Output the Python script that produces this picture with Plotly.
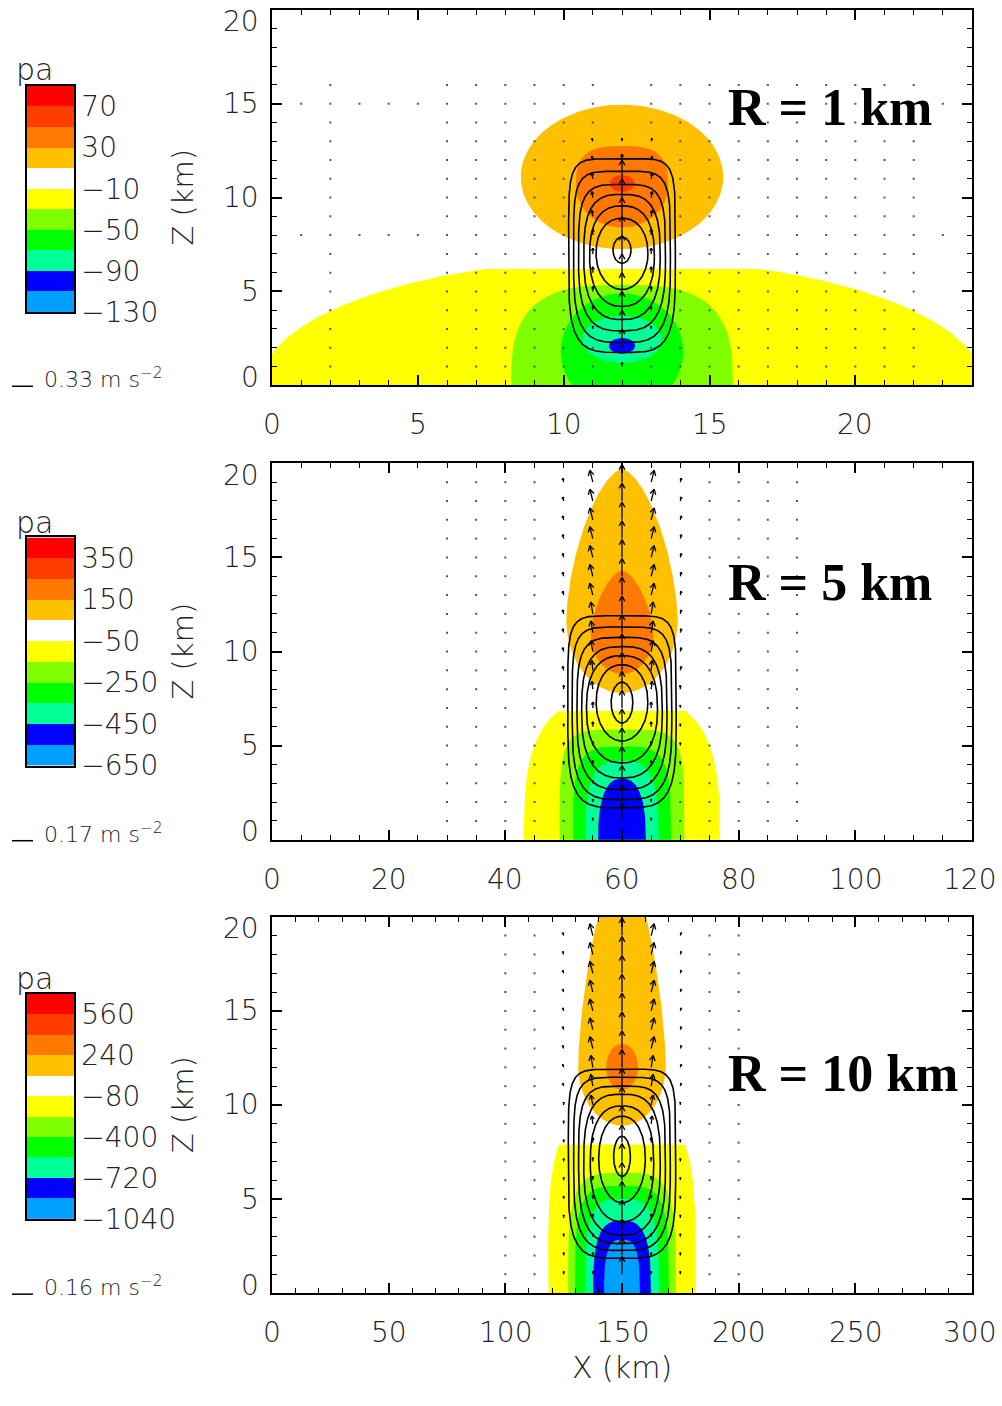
import numpy as np
import plotly.graph_objects as go

W, H = 1002, 1406

# ---------------- colour bands (lowest -> highest) ----------------
BAND_COLORS = ["#00A0FF", "#0000FF", "#00FF96", "#00FF00", "#80FF00",
               "#FFFF00", "#FFFFFF", "#FFC000", "#FF7800", "#FF3C00", "#FF0000"]

# ---------------- panel 1 : R = 1 km ----------------
P1_XMAX = 24
P1_CENTER = 12.0
P1_LEVELS = [-130, -110, -90, -70, -50, -30, -10, 10, 30, 50, 70, 90]
P1_TICKS = [70, 30, -10, -50, -90, -130]
P1_XTICKS = [0, 5, 10, 15, 20]
P1_FILL_LEVEL = [-10, -30, -50, -70, -90, 10, 30, 50]
P1_FILL_CZ = [0.0, 0.0, 1.8, 2.45, 2.1, 11.1, 10.6, 10.75]
P1_FILL_A = [12.4, 3.8, 2.1, 1.37, 0.45, 3.47, 1.58, 0.42]
P1_FILL_BUP = [6.7, 5.35, 3.1, 1.25, 0.42, 3.85, 2.15, 0.45]
P1_FILL_BDN = [6.7, 5.35, 3.1, 1.25, 0.42, 3.85, 2.2, 0.45]
P1_FILL_NUP = [2, 3, 2, 2, 2, 2, 3, 2]
P1_FILL_NDN = [2, 3, 2, 2, 2, 2, 2, 2]
P1_FILL_ZCUT = [6.2, 99, 99, 99, 99, 99, 99, 99]
P1_CONT_TOP = [12.07, 11.4, 10.7, 10.17, 9.56, 8.9, 7.9]
P1_CONT_BOT = [1.75, 2.28, 2.9, 3.5, 4.2, 5.1, 6.5]
P1_CONT_HW = [1.83, 1.66, 1.49, 1.31, 1.11, 0.89, 0.31]
P1_W_C = [4, 19, 19, 19, 19, 19, 19, 19, 19, 19, 19, 6, 3, 2, 2, 1, 0, 0, 0]
P1_W_S1 = [2, 2, 3, 4, 5, 6, 6, 6, 6, 6, 6, 4, 3, 2, 2, 1, 0, 0, 0]
P1_U_S1 = [0, 0, 0, 0, 0, 0, 0, 0, 1, 1, 1, 1, 1, 1, 0, 0, 0, 0, 0]
P1_W_S2 = [1, 1, 2, 2, 2, 2, 2, 2, 2, 2, 2, 2, 2, 1, 1, 1, 0, 0, 0]
P1_U_S2 = [0] * 19
P1_DOT_COLS = [-10, -6, -5, -4, -3, -2, -1, 1, 2, 3, 4, 5, 6, 7, 8, 9, 10]
P1_DOT_ROWS = list(range(1, 17))
P1_FULL_ROWS = [8, 15]

# ---------------- panel 2 : R = 5 km ----------------
P2_XMAX = 120
P2_CENTER = 60.0
P2_LEVELS = [-650, -550, -450, -350, -250, -150, -50, 50, 150, 250, 350, 450]
P2_TICKS = [350, 150, -50, -250, -450, -650]
P2_XTICKS = [0, 20, 40, 60, 80, 100, 120]
P2_FILL_LEVEL = [-50, -150, -250, -350, -450, 50, 150]
P2_FILL_CZ = [0.0, 0.0, 0.0, 0.0, 0.0, 11.7, 10.9]
P2_FILL_A = [16.8, 10.7, 8.4, 6.3, 4.1, 9.55, 5.35]
P2_FILL_BUP = [7.6, 5.85, 4.95, 4.2, 3.25, 8.0, 3.4]
P2_FILL_BDN = [7.6, 5.85, 4.95, 4.2, 3.25, 3.9, 2.1]
P2_FILL_NUP = [3, 5, 4, 3, 2.5, 1.6, 1.6]
P2_FILL_NDN = [3, 5, 4, 3, 2.5, 2, 2]
P2_FILL_ZCUT = [6.85, 99, 99, 99, 99, 99, 99]
P2_CONT_TOP = [11.9, 11.3, 10.75, 10.26, 9.78, 9.3, 8.37]
P2_CONT_BOT = [1.7, 2.13, 2.66, 3.28, 4.08, 5.24, 6.2]
P2_CONT_HW = [9.29, 8.54, 7.71, 6.91, 6.09, 4.43, 1.86]
P2_W_C = [18] * 19
P2_W_S1 = [3, 3, 3, 4, 4, 5, 6, 8, 10, 11, 12, 12, 12, 12, 12, 12, 12, 12, 12]
P2_U_S1 = [0, 0, 0, 0, 0, 0, 0, 1, 1, 2, 2, 2, 3, 3, 3, 3, 3, 3, 3]
P2_W_S2 = [2, 2, 2, 3, 3, 3, 3, 4, 4, 4, 4, 4, 4, 4, 4, 4, 4, 4, 4]
P2_U_S2 = [0, 0, 0, 0, 0, 0, 0, 0, 1, 1, 1, 1, 1, 1, 1, 1, 1, 1, 1]
P2_DOT_COLS = [-6, -5, -4, -3, -2, -1, 1, 2, 3, 4, 5, 6]
P2_DOT_ROWS = list(range(1, 20))
P2_FULL_ROWS = []

# ---------------- panel 3 : R = 10 km ----------------
P3_XMAX = 300
P3_CENTER = 150.0
P3_LEVELS = [-1040, -880, -720, -560, -400, -240, -80, 80, 240, 400, 560, 720]
P3_TICKS = [560, 240, -80, -400, -720, -1040]
P3_XTICKS = [0, 50, 100, 150, 200, 250, 300]
P3_FILL_LEVEL = [-80, -240, -400, -560, -720, -880, 80, 240]
P3_FILL_CZ = [0.0, 0.0, 0.0, 0.0, 0.0, 0.0, 12.1, 12.0]
P3_FILL_A = [31.7, 23.1, 20.1, 15.9, 12.4, 7.7, 18.8, 6.8]
P3_FILL_BUP = [9.5, 6.4, 5.7, 5.0, 3.85, 2.85, 11.2, 1.25]
P3_FILL_BDN = [9.5, 6.4, 5.7, 5.0, 3.85, 2.85, 3.2, 1.2]
P3_FILL_NUP = [4, 4, 4, 3.5, 3, 3, 1.5, 2]
P3_FILL_NDN = [4, 4, 4, 3.5, 3, 3, 2, 2]
P3_FILL_ZCUT = [7.9, 99, 99, 99, 99, 99, 99, 99]
P3_CONT_TOP = [11.9, 11.47, 11.0, 10.57, 9.95, 9.4, 8.34]
P3_CONT_BOT = [1.85, 2.27, 2.63, 3.08, 3.8, 4.8, 6.2]
P3_CONT_HW = [23.0, 20.7, 18.6, 16.4, 13.6, 10.0, 3.6]
P3_W_C = [18] * 19
P3_W_S1 = [3, 3, 3, 4, 4, 4, 4, 5, 8, 10, 12, 12, 12, 12, 12, 12, 12, 12, 12]
P3_U_S1 = [0, 0, 0, 0, 0, 0, 0, 0, 1, 2, 2, 2, 3, 3, 3, 3, 3, 3, 3]
P3_W_S2 = [3] * 19
P3_U_S2 = [0, 0, 0, 0, 0, 0, 0, 0, 0, 0, 1, 1, 1, 1, 1, 1, 1, 1, 1]
P3_DOT_COLS = [-4, -3, -2, -1, 1, 2, 3, 4]
P3_DOT_ROWS = list(range(1, 20))
P3_FULL_ROWS = []

CONT_NUP = [6, 5, 4, 3, 2.5, 2.2, 2.0]
CONT_NDN = [4, 3.5, 3, 2.6, 2.3, 2.0, 2.0]

R_LABELS = ["R = 1 km", "R = 5 km", "R = 10 km"]
SCALE_LABELS = ["0.33", "0.17", "0.16"]
Y_TICKS = [0, 5, 10, 15, 20]
X_MINOR = [1, 5, 10]

PANELS = [
    dict(xmax=P1_XMAX, c=P1_CENTER, levels=P1_LEVELS, ticks=P1_TICKS, xt=P1_XTICKS,
         fl=P1_FILL_LEVEL, fcz=P1_FILL_CZ, fa=P1_FILL_A, fbu=P1_FILL_BUP, fbd=P1_FILL_BDN,
         fnu=P1_FILL_NUP, fnd=P1_FILL_NDN, fcut=P1_FILL_ZCUT,
         ct=P1_CONT_TOP, cb=P1_CONT_BOT, chw=P1_CONT_HW,
         wc=P1_W_C, ws1=P1_W_S1, us1=P1_U_S1, ws2=P1_W_S2, us2=P1_U_S2,
         dcols=P1_DOT_COLS, drows=P1_DOT_ROWS, frows=P1_FULL_ROWS),
    dict(xmax=P2_XMAX, c=P2_CENTER, levels=P2_LEVELS, ticks=P2_TICKS, xt=P2_XTICKS,
         fl=P2_FILL_LEVEL, fcz=P2_FILL_CZ, fa=P2_FILL_A, fbu=P2_FILL_BUP, fbd=P2_FILL_BDN,
         fnu=P2_FILL_NUP, fnd=P2_FILL_NDN, fcut=P2_FILL_ZCUT,
         ct=P2_CONT_TOP, cb=P2_CONT_BOT, chw=P2_CONT_HW,
         wc=P2_W_C, ws1=P2_W_S1, us1=P2_U_S1, ws2=P2_W_S2, us2=P2_U_S2,
         dcols=P2_DOT_COLS, drows=P2_DOT_ROWS, frows=P2_FULL_ROWS),
    dict(xmax=P3_XMAX, c=P3_CENTER, levels=P3_LEVELS, ticks=P3_TICKS, xt=P3_XTICKS,
         fl=P3_FILL_LEVEL, fcz=P3_FILL_CZ, fa=P3_FILL_A, fbu=P3_FILL_BUP, fbd=P3_FILL_BDN,
         fnu=P3_FILL_NUP, fnd=P3_FILL_NDN, fcut=P3_FILL_ZCUT,
         ct=P3_CONT_TOP, cb=P3_CONT_BOT, chw=P3_CONT_HW,
         wc=P3_W_C, ws1=P3_W_S1, us1=P3_U_S1, ws2=P3_W_S2, us2=P3_U_S2,
         dcols=P3_DOT_COLS, drows=P3_DOT_ROWS, frows=P3_FULL_ROWS),
]

# ---------------- layout geometry (pixels) ----------------
PLOT_L, PLOT_R = 272, 972
PLOT_TOP = [10, 469, 928]
PLOT_BOT = [390, 850, 1309]
CB_L, CB_R = 27, 74
CB_TOP = [87, 544, 1006]
CB_BOT = [316, 775, 1234]
PA_Y = [70, 529, 990]
SCALE_Y = [383, 843, 1302]
SCALE_LINE_Y = [391, 851, 1310]
R_Y = [109, 590, 1087]
YLAB_SHIFT = {0: 8, 20: -12}
XLAB_Y_OFF = 40          # x tick labels: centre below the axis
XLAB_RIGHT = 998         # last x tick label kept inside the page

FONT = "DejaVu Sans"
TXT = "#222222"


def fx(x):
    return x / W


def fy(y):
    return 1 - y / H


def superellipse(cx, cz, a, bup, bdn, nup, ndn, zcut=None, npts=300):
    t = np.linspace(0, 2 * np.pi, npts)
    c, s = np.cos(t), np.sin(t)
    up = s >= 0
    n = np.where(up, nup, ndn)
    b = np.where(up, bup, bdn)
    x = cx + a * np.sign(c) * np.abs(c) ** (2.0 / n)
    z = cz + b * np.sign(s) * np.abs(s) ** (2.0 / n)
    if zcut is not None:
        z = np.minimum(z, zcut)
    return x, z


def band_color(levels, L):
    cs = levels[1] - levels[0]
    v = L - cs / 2 if L < 0 else L + cs / 2
    idx = int(np.searchsorted(levels, v)) - 1
    return BAND_COLORS[idx]


def add_arrow(xs, ys, x0, z0, du, dw, sx, sz):
    L = np.hypot(du, dw)
    tx, tz = x0 + du / sx, z0 + dw / sz
    xs += [x0, tx, None]
    ys += [z0, tz, None]
    h = min(6.0, 0.5 * L)
    ang = np.arctan2(dw, du)
    for sgn in (1, -1):
        a2 = ang + np.pi - sgn * 0.5
        xs += [tx + h * np.cos(a2) / sx, tx, None]
        ys += [tz + h * np.sin(a2) / sz, tz, None]


def tfont(size):
    return dict(family=FONT, size=size, color=TXT, weight=300)


fig = go.Figure()
layout = dict(width=W, height=H, margin=dict(l=0, r=0, t=0, b=0),
              paper_bgcolor="white", plot_bgcolor="white", showlegend=False,
              annotations=[], shapes=[])

for p, P in enumerate(PANELS):
    sfx = "" if p == 0 else str(p + 1)
    xa, ya = "x" + sfx, "y" + sfx
    sx = (PLOT_R - PLOT_L) / P["xmax"]
    sz = (PLOT_BOT[p] - PLOT_TOP[p]) / 20.0
    dxg = P["xmax"] / 24.0

    # pressure-perturbation bands
    for i, L in enumerate(P["fl"]):
        cut = P["fcut"][i] if P["fcut"][i] < 50 else None
        x, z = superellipse(P["c"], P["fcz"][i], P["fa"][i], P["fbu"][i], P["fbd"][i],
                            P["fnu"][i], P["fnd"][i], cut)
        fig.add_trace(go.Scatter(x=x, y=z, mode="lines", fill="toself",
                                 fillcolor=band_color(P["levels"], L),
                                 line=dict(width=0), hoverinfo="skip",
                                 xaxis=xa, yaxis=ya))

    # black contours
    for i in range(len(P["ct"])):
        cz = 0.5 * (P["ct"][i] + P["cb"][i])
        b = 0.5 * (P["ct"][i] - P["cb"][i])
        x, z = superellipse(P["c"], cz, P["chw"][i], b, b, CONT_NUP[i], CONT_NDN[i])
        fig.add_trace(go.Scatter(x=x, y=z, mode="lines",
                                 line=dict(color="black", width=1.6),
                                 hoverinfo="skip", xaxis=xa, yaxis=ya))

    # acceleration vectors
    xs, ys = [], []
    dotx, doty = [], []
    arrow_set = set()
    for r in range(19):
        zr = r + 1
        specs = [(0, 0, P["wc"][r])]
        for k in (-1, 1):
            specs.append((k, k * P["us1"][r], P["ws1"][r]))
        for k in (-2, 2):
            specs.append((k, (k // 2) * P["us2"][r], P["ws2"][r]))
        for k, du, dw in specs:
            if dw >= 3:
                add_arrow(xs, ys, P["c"] + k * dxg, zr, du, dw, sx, sz)
                arrow_set.add((k, zr))
    for zr in range(1, 20):
        cols = P["dcols"] if zr in P["drows"] else []
        if zr in P["frows"]:
            cols = [k for k in range(-11, 12) if k != 0]
        for k in cols:
            if (k, zr) in arrow_set:
                continue
            xk = P["c"] + k * dxg
            if 0 < xk < P["xmax"]:
                dotx.append(xk)
                doty.append(zr)
    fig.add_trace(go.Scatter(x=xs, y=ys, mode="lines",
                             line=dict(color="black", width=1.3),
                             hoverinfo="skip", xaxis=xa, yaxis=ya))
    fig.add_trace(go.Scatter(x=dotx, y=doty, mode="markers",
                             marker=dict(symbol="square", size=2, color="#555555"),
                             hoverinfo="skip", xaxis=xa, yaxis=ya))

    # axes (tick labels are drawn as annotations so that none pokes out of the page)
    common = dict(showgrid=False, zeroline=False, showline=True, linecolor="black",
                  linewidth=2, mirror="ticks", ticks="inside", ticklen=10,
                  tickwidth=1.6, tickcolor="black", showticklabels=False)
    layout["xaxis" + sfx] = dict(common, domain=[fx(PLOT_L), fx(PLOT_R)],
                                 range=[0, P["xmax"]], anchor=ya,
                                 tickvals=P["xt"],
                                 minor=dict(dtick=X_MINOR[p], tick0=0, ticks="inside",
                                            ticklen=5, tickwidth=1.4, tickcolor="black"))
    layout["yaxis" + sfx] = dict(common, domain=[fy(PLOT_BOT[p]), fy(PLOT_TOP[p])],
                                 range=[0, 20], anchor=xa, tickvals=Y_TICKS,
                                 minor=dict(dtick=1, tick0=0, ticks="inside", ticklen=5,
                                            tickwidth=1.4, tickcolor="black"))
    ann = layout["annotations"]
    for v in Y_TICKS:
        ann.append(dict(x=fx(PLOT_L - 11), xref="paper", y=v, yref=ya,
                        xanchor="right", yanchor="middle", showarrow=False,
                        text=str(v), yshift=YLAB_SHIFT.get(v, 0), font=tfont(28)))
    for v in P["xt"]:
        last = v == P["xmax"]
        ann.append(dict(x=fx(XLAB_RIGHT) if last else v,
                        xref="paper" if last else xa,
                        y=fy(PLOT_BOT[p] + XLAB_Y_OFF), yref="paper",
                        xanchor="right" if last else "center", yanchor="middle",
                        showarrow=False, text=str(v), font=tfont(28)))

    # colour bar drawn as its own small subplot
    csfx = str(p + 4)
    lev = P["levels"]
    fig.add_trace(go.Heatmap(x=[0, 1], y=lev, z=[[i] for i in range(11)],
                             colorscale=[[i / 10, c] for i, c in enumerate(BAND_COLORS)],
                             zmin=0, zmax=10, showscale=False, hoverinfo="skip",
                             xaxis="x" + csfx, yaxis="y" + csfx))
    ttext = [("\u2212" + str(-v)) if v < 0 else str(v) for v in P["ticks"]]
    layout["xaxis" + csfx] = dict(domain=[fx(CB_L), fx(CB_R)], range=[0, 1],
                                  anchor="y" + csfx, showticklabels=False, ticks="",
                                  showgrid=False, zeroline=False, showline=True,
                                  linecolor="black", linewidth=1.5, mirror=True)
    layout["yaxis" + csfx] = dict(domain=[fy(CB_BOT[p]), fy(CB_TOP[p])],
                                  range=[lev[0], lev[-1]], anchor="x" + csfx,
                                  side="right", tickvals=P["ticks"], ticktext=ttext,
                                  ticks="", ticklabelstandoff=0, tickfont=tfont(28),
                                  showgrid=False, zeroline=False, showline=True,
                                  linecolor="black", linewidth=1.5, mirror=True)

    # texts
    ann.append(dict(x=fx(726), y=fy(R_Y[p]), xref="paper", yref="paper",
                    xanchor="left", yanchor="middle", showarrow=False,
                    text="<b>%s</b>" % R_LABELS[p],
                    font=dict(family="Liberation Serif", size=52, color="black")))
    ann.append(dict(x=fx(183), y=fy(0.5 * (PLOT_TOP[p] + PLOT_BOT[p])),
                    xref="paper", yref="paper", xanchor="center", yanchor="middle",
                    showarrow=False, textangle=-90, text="Z (km)", font=tfont(29)))
    ann.append(dict(x=fx(14), y=fy(PA_Y[p]), xref="paper", yref="paper",
                    xanchor="left", yanchor="middle", showarrow=False, text="pa",
                    font=tfont(30)))
    ann.append(dict(x=fx(42), y=fy(SCALE_Y[p]), xref="paper", yref="paper",
                    xanchor="left", yanchor="middle", showarrow=False,
                    text="%s m s<sup>\u22122</sup>" % SCALE_LABELS[p], font=tfont(22)))
    layout["shapes"].append(dict(type="line", xref="paper", yref="paper",
                                 x0=fx(12), x1=fx(33),
                                 y0=fy(SCALE_LINE_Y[p]), y1=fy(SCALE_LINE_Y[p]),
                                 line=dict(color="black", width=1.5)))

layout["annotations"].append(dict(x=fx(622), y=fy(1384), xref="paper", yref="paper",
                                  xanchor="center", yanchor="middle", showarrow=False,
                                  text="X (km)", font=tfont(30)))

fig.update_layout(**layout)
fig.write_html("out.html")
